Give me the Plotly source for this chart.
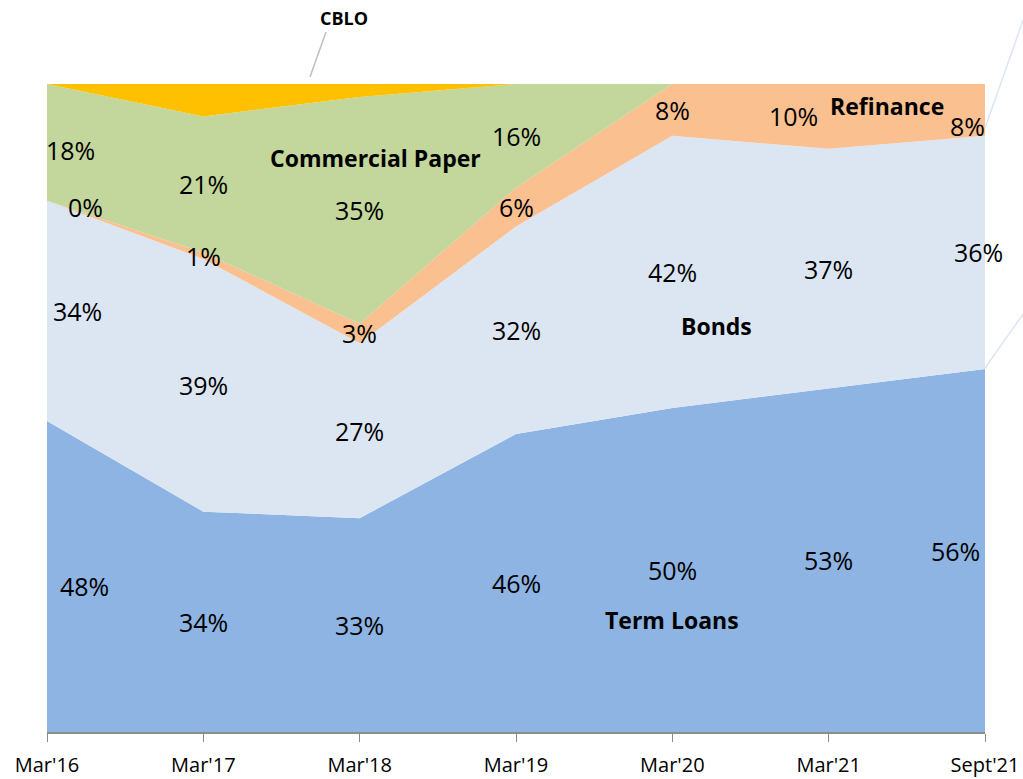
import plotly.graph_objects as go

# Borrowing mix, share of total (%)
periods = ["Mar'16", "Mar'17", "Mar'18", "Mar'19", "Mar'20", "Mar'21", "Sept'21"]
term_loans = [48, 34, 33, 46, 50, 53, 56]
bonds = [34, 39, 27, 32, 42, 37, 36]
refinance = [0, 1, 3, 6, 8, 10, 8]
commercial_paper = [18, 21, 35, 16, 0, 0, 0]
cblo = [0, 5, 2, 0, 0, 0, 0]

series = [
    ("Term Loans", term_loans, "#8EB4E3", True),
    ("Bonds", bonds, "#DCE6F2", True),
    ("Refinance", refinance, "#FAC090", True),
    ("Commercial Paper", commercial_paper, "#C3D69B", True),
    ("CBLO", cblo, "#FFC000", False),
]

FONT = "Open Sans, Liberation Sans, sans-serif"

# nudges (px) for labels at the chart edges, as placed in the original
nudge = {
    ("Term Loans", 0): (37, -10), ("Bonds", 0): (30, 0),
    ("Refinance", 0): (38, -6), ("Commercial Paper", 0): (23, -8),
    ("Term Loans", 6): (-30, 0), ("Bonds", 6): (-7, 0), ("Refinance", 6): (-18, -16),
    ("Refinance", 5): (-35, 0),
}

fig = go.Figure()
for name, vals, color, _ in series:
    fig.add_trace(go.Scatter(
        x=periods, y=vals, name=name, mode="lines",
        stackgroup="one", line=dict(width=0, color=color),
        fillcolor=color, hoverinfo="x+y+name",
    ))

# value labels in the middle of each band
label_font = dict(family=FONT, size=25, color="black")
base = [0] * len(periods)
for name, vals, color, labelled in series:
    for i, v in enumerate(vals):
        mid = base[i] + v / 2
        show = labelled and (v > 0 or name == "Refinance")
        if show:
            dx, dy = nudge.get((name, i), (0, 0))
            fig.add_annotation(x=periods[i], y=mid, text=f"{v}%", showarrow=False,
                               font=label_font, xshift=dx, yshift=dy)
    base = [b + v for b, v in zip(base, vals)]

name_font = dict(family=FONT, size=23, color="black")
fig.add_annotation(x=2.1, y=88.6, text="<b>Commercial Paper</b>", showarrow=False, font=name_font)
fig.add_annotation(x=4.28, y=62.7, text="<b>Bonds</b>", showarrow=False, font=name_font)
fig.add_annotation(x=4.0, y=17.3, text="<b>Term Loans</b>", showarrow=False, font=name_font)
fig.add_annotation(x=5.37, y=96.6, text="<b>Refinance</b>", showarrow=False, font=name_font)
fig.add_annotation(x=1.9, xref="x", y=1.102, yref="paper", yanchor="middle",
                   text="<b>CBLO</b>", showarrow=False,
                   font=dict(family=FONT, size=18, color="black"))

# leader lines
def px(xp, yp):
    return (xp - 47) / 938, (732 - yp) / 648

for (x0, y0), (x1, y1), c in [
    ((310, 77), (326, 32), "#BFBFBF"),
    ((985, 128), (1026, 12), "#DCE6F2"),
    ((985, 368), (1026, 310), "#DCE6F2"),
]:
    a0, b0 = px(x0, y0)
    a1, b1 = px(x1, y1)
    fig.add_shape(type="line", xref="paper", yref="paper", x0=a0, y0=b0, x1=a1, y1=b1,
                  line=dict(color=c, width=1.5))

fig.update_layout(
    width=1023, height=779,
    margin=dict(l=47, r=38, t=84, b=47, autoexpand=False),
    plot_bgcolor="white", paper_bgcolor="white",
    showlegend=False,
    xaxis=dict(
        range=[0, len(periods) - 1], showgrid=False, zeroline=False, automargin=False,
        showline=True, linecolor="#8C8C8C", linewidth=2,
        ticks="outside", ticklen=8, tickcolor="#8C8C8C", tickwidth=1,
        ticklabelstandoff=6,
        tickfont=dict(family=FONT, size=20, color="black"),
    ),
    yaxis=dict(range=[0, 100], visible=False, fixedrange=True, automargin=False),
)

# drop the default page margin so the figure sits at the window's corner
fig.write_html("out.html", config={"displayModeBar": False},
               post_script="document.body.style.margin='0';")
